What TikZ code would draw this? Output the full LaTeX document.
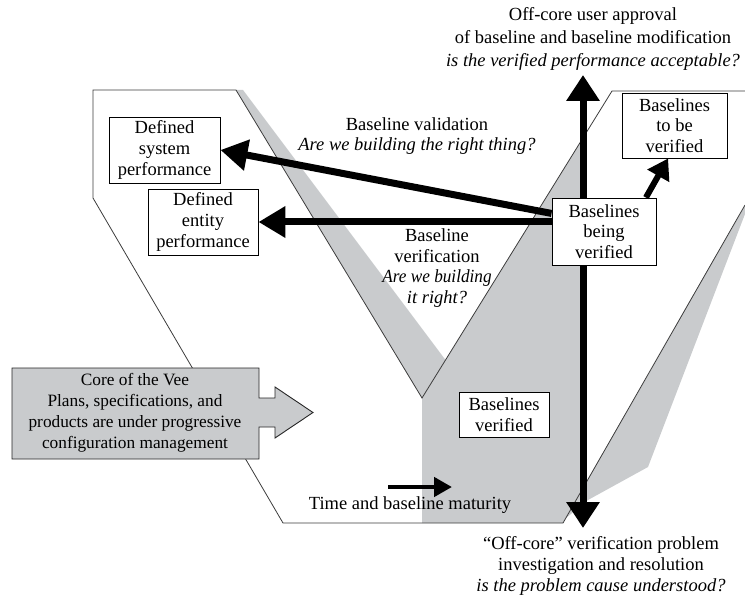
\documentclass[tikz,border=0pt]{standalone}
\usepackage{fontspec}
\setmainfont{Liberation Serif}
\usetikzlibrary{arrows.meta}
\definecolor{vgray}{RGB}{201,203,205}
\definecolor{vline}{RGB}{60,60,60}
\begin{document}
\begin{tikzpicture}[x=1pt,y=-1pt,
  txt/.style={font=\fontsize{18.5}{20.8}\selectfont, align=center, inner sep=0pt},
  bx/.style={txt, draw=black, line width=0.9pt, fill=white},
  vee/.style={draw=vline, line width=0.8pt, line join=miter},
  bigarrow/.style={line width=7pt, -{Triangle[length=27pt,width=30pt]}},
]
\useasboundingbox (0,0) rectangle (745,599);
% gray shading
\fill[vgray] (236,90) -- (243,90) -- (445.5,360) -- (422,398) -- cycle;
\fill[vgray] (422,398) -- (583,138) -- (583,488) -- (563,523) -- (422,523) -- cycle;
\fill[vgray] (566,518) -- (745,205) -- (745,214) -- (648,467) -- (588,500) -- cycle;
% Vee outline
\draw[vee] (745,91) -- (612,91) -- (422,398) -- (236,90) -- (93,90) -- (93,198) -- (283,523) -- (563,523) -- (745,205);
% core box with arrow
\filldraw[fill=vgray, draw=black!85, line width=0.9pt] (12,368) -- (259,368) -- (259,398) -- (275,398) -- (275,387) -- (313,412.5) -- (275,438) -- (275,427) -- (259,427) -- (259,459) -- (12,459) -- cycle;
\node[txt, font=\fontsize{17.3}{21}\selectfont] (core) at (135,413) {Core of the Vee\\Plans, specifications, and\\products are under progressive\\configuration management};
% vertical double arrow
\coordinate (vtop) at (583,75);
\coordinate (vbot) at (583,528);
\draw[line width=7pt, {Triangle[length=26pt,width=32pt]}-{Triangle[length=26pt,width=32pt]}] (vbot) -- (vtop);
% boxes
\node[bx, minimum width=111pt, minimum height=66pt] (sys) at (164.5,150) {Defined\\system\\performance};
\node[bx, minimum width=110pt, minimum height=66pt] (ent) at (203,222) {Defined\\entity\\performance};
\node[bx, minimum width=105pt, minimum height=65pt] (tbv) at (674.5,125.5) {Baselines\\to be\\verified};
\node[bx, minimum width=104pt, minimum height=67pt] (bv) at (604,231.5) {Baselines\\being\\verified};
\node[bx, minimum width=90pt, minimum height=45pt] (bvd) at (504,414.5) {Baselines\\verified};
% arrows
\draw[bigarrow] (bv.161) -- (sys.east);
\draw[bigarrow] (bv.west |- ent.east) -- (ent.east);
\draw[line width=6pt, -{Triangle[length=20pt,width=24pt]}] (bv.39) -- (tbv.259);
\coordinate (tstart) at (388,487);
\coordinate (tend) at (452,487);
\draw[line width=4.5pt, -{Triangle[length=18pt,width=19pt]}] (tstart) -- (tend);
% texts
\node[txt, font=\fontsize{18.5}{23}\selectfont] (top) at (593,39) {Off-core user approval\\of baseline and baseline modification\\\itshape is the verified performance acceptable?};
\node[txt] (val) at (417,136) {Baseline validation\\\itshape Are we building the right thing?};
\node[txt] (verl) at (437,268) {Baseline\\verification\\\itshape\addfontfeature{FakeStretch=0.93} Are we building\\\itshape it right?};
\node[txt] (time) at (410,505) {Time and baseline maturity};
\node[txt] (bot) at (601,566) {“Off-core” verification problem\\investigation and resolution\\\itshape is the problem cause understood?};
\end{tikzpicture}
\end{document}
